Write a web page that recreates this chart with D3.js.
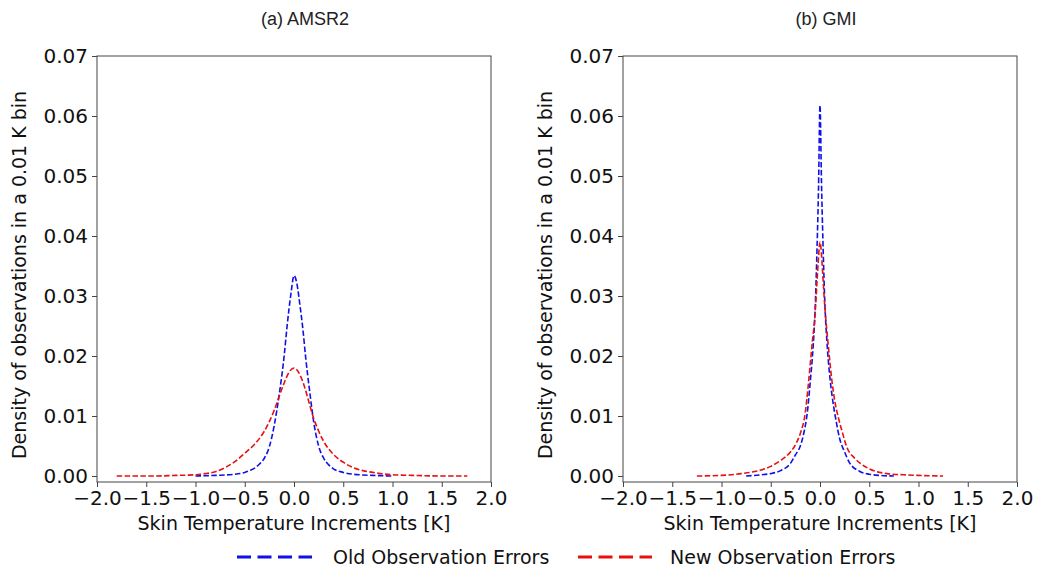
<!DOCTYPE html>
<html>
<head>
<meta charset="utf-8">
<script src="https://cdn.jsdelivr.net/npm/d3@7"></script>
<style>
  html, body { margin: 0; padding: 0; background: #fff; }
  svg { display: block; }
  .tick text { font-family: "DejaVu Sans", sans-serif; font-size: 20px; fill: #111; }
  .axis path, .axis line { stroke: #444; }
</style>
</head>
<body>
<svg id="chart" width="1037" height="569"></svg>
<script>
// ---------- data ----------
const panelTitles = ["(a) AMSR2", "(b) GMI"];
const seriesNames = ["Old Observation Errors", "New Observation Errors"];
const xTicks = [-2.0, -1.5, -1.0, -0.5, 0.0, 0.5, 1.0, 1.5, 2.0];
const yTicks = [0.00, 0.01, 0.02, 0.03, 0.04, 0.05, 0.06, 0.07];

// (a) AMSR2 – old observation errors
const amsrOldX = [-1.0, -0.8, -0.6, -0.5, -0.45, -0.4, -0.35, -0.3, -0.25, -0.2, -0.15, -0.1, -0.07, -0.03, 0.0, 0.03, 0.06, 0.09, 0.12, 0.16, 0.2, 0.25, 0.3, 0.35, 0.4, 0.5, 0.6, 0.8, 1.0];
const amsrOldY = [0.0000, 0.0001, 0.0003, 0.0006, 0.0009, 0.0013, 0.0020, 0.0030, 0.0049, 0.0085, 0.0136, 0.0200, 0.0250, 0.0305, 0.0334, 0.0320, 0.0285, 0.0245, 0.0195, 0.0140, 0.0090, 0.0050, 0.0030, 0.0019, 0.0012, 0.0006, 0.0003, 0.0001, 0.0000];
// (a) AMSR2 – new observation errors
const amsrNewX = [-1.8, -1.4, -1.2, -1.0, -0.9, -0.8, -0.7, -0.6, -0.5, -0.4, -0.3, -0.2, -0.15, -0.1, -0.05, 0.0, 0.05, 0.1, 0.15, 0.2, 0.25, 0.3, 0.4, 0.5, 0.6, 0.7, 0.8, 1.0, 1.2, 1.5, 1.76];
const amsrNewY = [0.0000, 0.0000, 0.0001, 0.0002, 0.0004, 0.0007, 0.0014, 0.0024, 0.0038, 0.0053, 0.0075, 0.0110, 0.0133, 0.0155, 0.0173, 0.0180, 0.0172, 0.0152, 0.0124, 0.0096, 0.0075, 0.0058, 0.0036, 0.0023, 0.0014, 0.0009, 0.0006, 0.0002, 0.0001, 0.0000, 0.0000];
// (b) GMI – old observation errors
const gmiOldX = [-0.75, -0.6, -0.5, -0.4, -0.3, -0.25, -0.2, -0.16, -0.13, -0.1, -0.07, -0.05, -0.03, -0.015, 0.0, 0.015, 0.03, 0.05, 0.07, 0.1, 0.13, 0.16, 0.2, 0.25, 0.3, 0.4, 0.5, 0.6, 0.75];
const gmiOldY = [0.0000, 0.0002, 0.0004, 0.0009, 0.0021, 0.0035, 0.0050, 0.0075, 0.0104, 0.0155, 0.0215, 0.0275, 0.0380, 0.0480, 0.0618, 0.0490, 0.0390, 0.0285, 0.0225, 0.0165, 0.0125, 0.0095, 0.0062, 0.0040, 0.0022, 0.0008, 0.0003, 0.0001, 0.0000];
// (b) GMI – new observation errors
const gmiNewX = [-1.25, -1.0, -0.8, -0.6, -0.5, -0.4, -0.3, -0.25, -0.2, -0.15, -0.12, -0.08, -0.05, -0.03, -0.015, 0.0, 0.015, 0.03, 0.05, 0.085, 0.12, 0.15, 0.19, 0.23, 0.27, 0.35, 0.41, 0.5, 0.68, 0.85, 1.0, 1.25];
const gmiNewY = [0.0000, 0.0001, 0.0004, 0.0010, 0.0016, 0.0026, 0.0040, 0.0052, 0.0071, 0.0105, 0.0150, 0.0220, 0.0270, 0.0325, 0.0365, 0.0390, 0.0370, 0.0330, 0.0280, 0.0216, 0.0160, 0.0125, 0.0095, 0.0071, 0.0049, 0.0030, 0.0021, 0.0012, 0.0004, 0.0002, 0.0001, 0.0000];

const colors = ["#1010e8", "#e81010"];

// ---------- layout ----------
const svg = d3.select("#chart");
const panels = [
  { title: panelTitles[0], left: 97, right: 491, titleX: 305,
    series: [ {x: amsrOldX, y: amsrOldY}, {x: amsrNewX, y: amsrNewY} ] },
  { title: panelTitles[1], left: 623, right: 1017, titleX: 826,
    series: [ {x: gmiOldX, y: gmiOldY}, {x: gmiNewX, y: gmiNewY} ] }
];
const plotTop = 56, plotBottom = 482;

panels.forEach(p => {
  const x = d3.scaleLinear().domain([-2, 2]).range([p.left, p.right]);
  const y = d3.scaleLinear().domain([-0.001, 0.07]).range([plotBottom, plotTop]);
  const g = svg.append("g");

  // frame
  g.append("rect")
    .attr("x", p.left).attr("y", plotTop)
    .attr("width", p.right - p.left).attr("height", plotBottom - plotTop)
    .attr("fill", "none").attr("stroke", "#444").attr("stroke-width", 1);

  // axes
  g.append("g").attr("class", "axis")
    .attr("transform", `translate(0,${plotBottom})`)
    .call(d3.axisBottom(x).tickValues(xTicks).tickFormat(d3.format(".1f")).tickSize(5).tickPadding(4))
    .call(a => a.select(".domain").remove());
  g.append("g").attr("class", "axis")
    .attr("transform", `translate(${p.left},0)`)
    .call(d3.axisLeft(y).tickValues(yTicks).tickFormat(d3.format(".2f")).tickSize(5).tickPadding(4))
    .call(a => a.select(".domain").remove());

  // curves
  const clipId = "clip" + p.left;
  svg.append("clipPath").attr("id", clipId).append("rect")
    .attr("x", p.left).attr("y", plotTop).attr("width", p.right - p.left).attr("height", plotBottom - plotTop);
  p.series.forEach((s, i) => {
    const pts = s.x.map((v, k) => [v, s.y[k]]);
    g.append("path")
      .attr("clip-path", `url(#${clipId})`)
      .attr("d", d3.line().x(d => x(d[0])).y(d => y(d[1])).curve(d3.curveMonotoneX)(pts))
      .attr("fill", "none").attr("stroke", colors[i])
      .attr("stroke-width", 1.6).attr("stroke-dasharray", "5.5,2.4");
  });

  // title
  g.append("text").attr("x", p.titleX).attr("y", 25).attr("text-anchor", "middle")
    .style("font-family", "'Liberation Sans', Arial, sans-serif").style("font-size", "18px").style("fill", "#222")
    .text(p.title);

  // x label
  g.append("text").attr("x", (p.left + p.right) / 2).attr("y", 530).attr("text-anchor", "middle")
    .style("font-family", "'DejaVu Sans', sans-serif").style("font-size", "19px").style("fill", "#111")
    .text("Skin Temperature Increments [K]");

  // y label
  g.append("text")
    .attr("transform", `translate(${p.left - 71},${(plotTop + plotBottom) / 2 + 6}) rotate(-90)`)
    .attr("text-anchor", "middle")
    .style("font-family", "'DejaVu Sans', sans-serif").style("font-size", "19px").style("fill", "#111")
    .text("Density of observations in a 0.01 K bin");
});

// legend
const legendItems = [
  { x0: 237, x1: 312, tx: 333 },
  { x0: 578, x1: 652, tx: 670 }
];
legendItems.forEach((l, i) => {
  svg.append("line").attr("x1", l.x0).attr("x2", l.x1).attr("y1", 557).attr("y2", 557)
    .attr("stroke", colors[i]).attr("stroke-width", 3.2).attr("stroke-dasharray", "14,6.5");
  svg.append("text").attr("x", l.tx).attr("y", 564)
    .style("font-family", "'DejaVu Sans', sans-serif").style("font-size", "19px").style("fill", "#111")
    .text(seriesNames[i]);
});
</script>
</body>
</html>
